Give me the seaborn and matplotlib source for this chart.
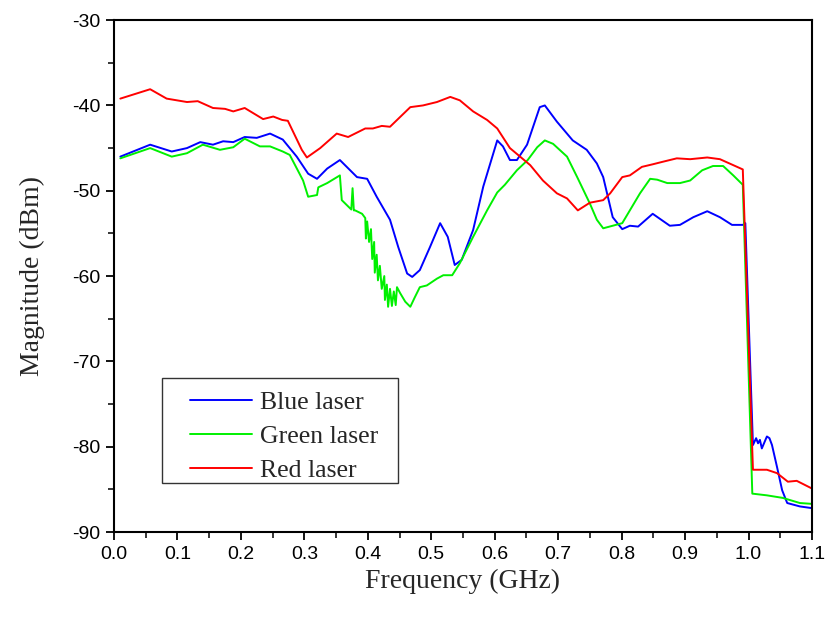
import matplotlib
matplotlib.use('Agg')
import matplotlib.pyplot as plt
from matplotlib.ticker import MultipleLocator
from matplotlib.patches import Rectangle
import seaborn as sns
import pandas as pd

# frequency (GHz) / magnitude (dBm)
blue_f = [0.010, 0.057, 0.091, 0.115, 0.136, 0.156, 0.172, 0.188, 0.206, 0.225, 0.246, 0.266,
          0.288, 0.306, 0.320, 0.336, 0.356, 0.383, 0.399, 0.414, 0.435, 0.448, 0.462, 0.470,
          0.482, 0.498, 0.514, 0.526, 0.537, 0.548, 0.566, 0.582, 0.604, 0.613, 0.624, 0.635,
          0.651, 0.671, 0.679, 0.698, 0.723, 0.745, 0.761, 0.771, 0.786, 0.801, 0.813, 0.826,
          0.849, 0.876, 0.892, 0.913, 0.935, 0.955, 0.974, 0.991, 0.995, 1.007, 1.012, 1.015,
          1.018, 1.021, 1.025, 1.029, 1.033, 1.037, 1.045, 1.053, 1.061, 1.081, 1.100]
blue_db = [-46.0, -44.6, -45.4, -45.0, -44.3, -44.6, -44.2, -44.3, -43.7, -43.8, -43.3, -44.0,
           -46.0, -48.0, -48.6, -47.4, -46.4, -48.4, -48.6, -50.7, -53.4, -56.6, -59.7, -60.1,
           -59.3, -56.6, -53.8, -55.4, -58.7, -58.1, -54.6, -49.5, -44.1, -44.8, -46.4, -46.4,
           -44.6, -40.2, -40.0, -41.9, -44.1, -45.2, -46.8, -48.4, -53.1, -54.5, -54.1, -54.2,
           -52.7, -54.1, -54.0, -53.1, -52.4, -53.1, -54.0, -54.0, -53.8, -79.8, -79.0, -79.6,
           -79.2, -80.2, -79.5, -78.8, -79.0, -79.8, -82.4, -85.1, -86.6, -87.0, -87.2]

green_f = [0.010, 0.057, 0.091, 0.115, 0.140, 0.167, 0.188, 0.206, 0.230, 0.246, 0.266, 0.277,
           0.298, 0.306, 0.320, 0.322, 0.336, 0.356, 0.359, 0.374, 0.376, 0.378, 0.380, 0.391,
           0.396, 0.397, 0.399, 0.402, 0.405, 0.407, 0.410, 0.411, 0.414, 0.416, 0.419, 0.422,
           0.426, 0.427, 0.430, 0.432, 0.435, 0.438, 0.441, 0.444, 0.446, 0.451, 0.459, 0.467,
           0.474, 0.482, 0.493, 0.509, 0.519, 0.533, 0.545, 0.566, 0.588, 0.604, 0.616, 0.635,
           0.652, 0.667, 0.679, 0.692, 0.714, 0.730, 0.750, 0.761, 0.771, 0.786, 0.801, 0.813,
           0.829, 0.845, 0.856, 0.872, 0.892, 0.908, 0.927, 0.944, 0.960, 0.976, 0.991, 1.006,
           1.029, 1.054, 1.081, 1.100]
green_db = [-46.2, -45.0, -46.0, -45.6, -44.6, -45.2, -44.9, -43.9, -44.8, -44.8, -45.4, -45.8,
            -48.8, -50.7, -50.5, -49.6, -49.1, -48.2, -51.1, -52.2, -49.7, -52.3, -52.3, -52.7,
            -53.2, -55.6, -53.6, -56.0, -54.5, -58.0, -56.0, -59.6, -57.5, -60.5, -58.8, -61.5,
            -60.0, -62.8, -61.0, -63.6, -61.5, -63.5, -61.8, -63.4, -61.3, -62.0, -63.0, -63.6,
            -62.5, -61.3, -61.1, -60.3, -59.9, -59.9, -58.5, -55.4, -52.3, -50.2, -49.3, -47.6,
            -46.4, -44.9, -44.1, -44.5, -46.0, -48.4, -51.5, -53.4, -54.4, -54.1, -53.8, -52.3,
            -50.3, -48.6, -48.7, -49.1, -49.1, -48.8, -47.6, -47.1, -47.1, -48.2, -49.3, -85.5,
            -85.7, -86.0, -86.6, -86.7]

red_f = [0.010, 0.057, 0.083, 0.115, 0.132, 0.156, 0.175, 0.188, 0.206, 0.235, 0.251, 0.265,
         0.274, 0.296, 0.304, 0.325, 0.351, 0.369, 0.396, 0.408, 0.422, 0.435, 0.467, 0.487,
         0.509, 0.530, 0.545, 0.566, 0.588, 0.604, 0.624, 0.640, 0.656, 0.676, 0.698, 0.714,
         0.731, 0.750, 0.771, 0.782, 0.801, 0.813, 0.832, 0.849, 0.865, 0.887, 0.908, 0.935,
         0.955, 0.976, 0.991, 1.007, 1.029, 1.045, 1.062, 1.076, 1.100]
red_db = [-39.2, -38.1, -39.2, -39.6, -39.5, -40.3, -40.4, -40.7, -40.3, -41.6, -41.3, -41.7,
          -41.8, -45.2, -46.1, -45.0, -43.3, -43.7, -42.7, -42.7, -42.4, -42.5, -40.2, -40.0,
          -39.6, -39.0, -39.4, -40.7, -41.7, -42.7, -45.0, -46.0, -47.0, -48.8, -50.3, -50.9,
          -52.3, -51.4, -51.1, -50.3, -48.4, -48.2, -47.2, -46.9, -46.6, -46.2, -46.3, -46.1,
          -46.3, -47.0, -47.5, -82.7, -82.7, -83.1, -84.1, -84.0, -84.9]

sns.set_style("ticks")
plt.rcParams['font.family'] = ['Liberation Sans', 'DejaVu Sans']
plt.rcParams['axes.unicode_minus'] = False

fig = plt.figure(figsize=(8.26, 6.19), dpi=100)
ax = fig.add_axes([0.138, 0.1405, 0.845, 0.827])

series = [('Blue laser', blue_f, blue_db, '#0000ff'),
          ('Green laser', green_f, green_db, '#00f000'),
          ('Red laser', red_f, red_db, '#ff0000')]
for name, f, db, col in series:
    df = pd.DataFrame({'f': f, 'db': db})
    sns.lineplot(data=df, x='f', y='db', ax=ax, color=col, lw=1.4,
                 estimator=None, sort=False, label=name)

ax.set_xlim(0, 1.1)
ax.set_ylim(-90, -30)
ax.xaxis.set_major_locator(MultipleLocator(0.1))
ax.xaxis.set_minor_locator(MultipleLocator(0.05))
ax.yaxis.set_major_locator(MultipleLocator(10))
ax.yaxis.set_minor_locator(MultipleLocator(5))
ax.set_xticklabels([f'{v:.1f}' for v in ax.get_xticks()])
ax.tick_params(which='major', direction='out', length=6, width=1.3, labelsize=14,
               colors='black', pad=4)
ax.tick_params(which='minor', direction='out', length=4, width=1.3)
for s in ax.spines.values():
    s.set_visible(True)
    s.set_linewidth(1.5)
    s.set_color('black')

ax.set_xlabel('Frequency (GHz)', fontsize=20, family=['Liberation Serif'], labelpad=4)
ax.set_ylabel('Magnitude (dBm)', fontsize=20, family=['Liberation Serif'], labelpad=19)

# legend entries without frame, box drawn separately
leg = ax.legend(loc='lower left', bbox_to_anchor=(0.093, 0.076), borderaxespad=0,
                frameon=False, handlelength=2.4, handletextpad=0.3,
                prop={'family': 'Liberation Serif', 'size': 18.5},
                borderpad=0.45, labelspacing=0.42)
ax.add_patch(Rectangle((0.0688, 0.0957), 0.338, 0.205, transform=ax.transAxes,
                       fill=False, edgecolor='#333333', lw=1.0, zorder=5))

fig.savefig('out.png', dpi=100)
